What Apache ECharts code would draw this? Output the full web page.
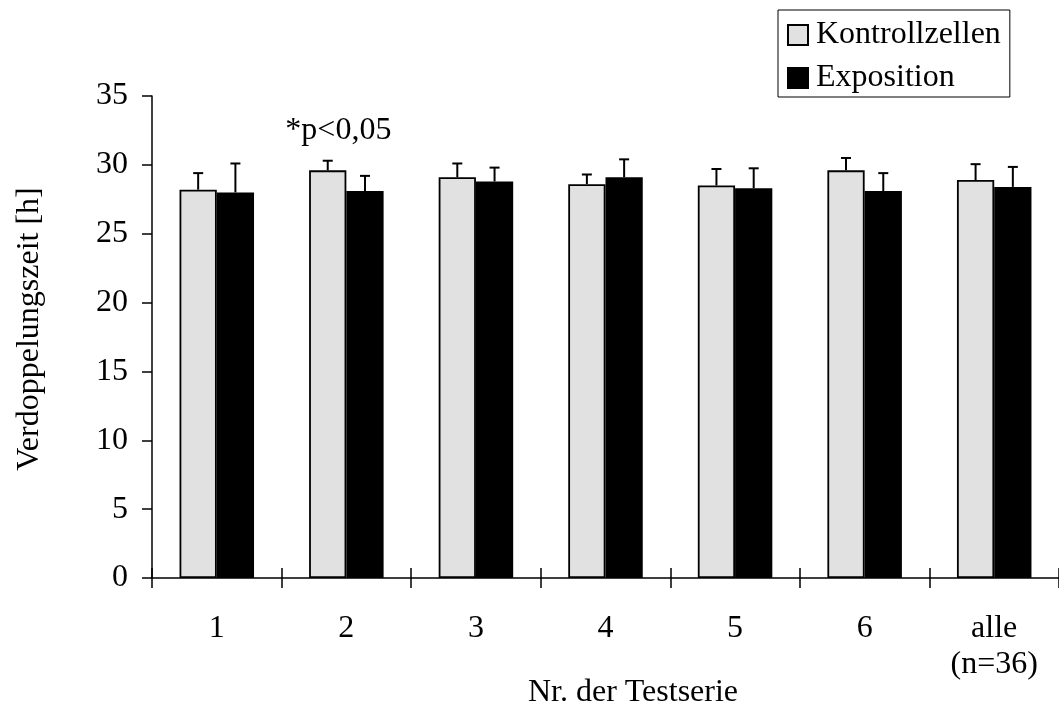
<!DOCTYPE html>
<html>
<head>
<meta charset="utf-8">
<script src="https://cdn.jsdelivr.net/npm/echarts@6/dist/echarts.min.js"></script>
<style>
  html, body { margin: 0; padding: 0; background: #fff; }
  #chart { width: 1059px; height: 708px; }
</style>
</head>
<body>
<div id="chart"></div>
<script>
// Verdoppelungszeit je Testserie: Mittelwerte und Standardabweichungen
var categories = ['1', '2', '3', '4', '5', '6', 'alle\n(n=36)'];
var kontrollValues = [28.2, 29.6, 29.1, 28.6, 28.5, 29.6, 28.9];
var kontrollErrors = [1.2, 0.7, 1.0, 0.7, 1.2, 0.9, 1.15];
var expositionValues = [28.0, 28.1, 28.8, 29.1, 28.3, 28.1, 28.4];
var expositionErrors = [2.1, 1.1, 1.0, 1.3, 1.45, 1.3, 1.45];
var yTicks = { min: 0, max: 35, interval: 5 };
var seriesNames = ['Kontrollzellen', 'Exposition'];
var significanceNote = { category: '2', value: 31.3, text: '*p<0,05' };

var FONT = '"Liberation Serif", "Times New Roman", serif';
var GAP_RATIO = 0.425;

var chart = echarts.init(document.getElementById('chart'), null, { renderer: 'canvas' });

function errorData(values, errors) {
  return values.map(function (v, i) { return [i, v, errors[i]]; });
}

// Whisker above each bar; side = -1 for left bar, +1 for right bar
function makeErrorRenderer(side) {
  return function (params, api) {
    var idx = api.value(0);
    var v = api.value(1);
    var e = api.value(2);
    var band = api.size([1, 0])[0];
    var barW = band * (1 - GAP_RATIO) / 2;
    var base = api.coord([idx, v]);
    var top = api.coord([idx, v + e]);
    var x = base[0] + side * barW / 2;
    var cap = 5;
    var style = { stroke: '#000', lineWidth: 2 };
    return {
      type: 'group',
      children: [
        { type: 'line', shape: { x1: x, y1: base[1], x2: x, y2: top[1] }, style: style },
        { type: 'line', shape: { x1: x - cap, y1: top[1], x2: x + cap, y2: top[1] }, style: style }
      ]
    };
  };
}

var option = {
  animation: false,
  backgroundColor: '#fff',
  grid: { left: 152, right: -7, top: 96, bottom: 130, containLabel: false },
  legend: {
    orient: 'vertical',
    left: 778,
    top: 10,
    data: seriesNames,
    itemWidth: 20,
    itemHeight: 20,
    itemGap: 11,
    padding: [9, 9, 3, 9],
    borderColor: '#000',
    borderWidth: 1,
    icon: 'rect',
    textStyle: { fontFamily: FONT, fontSize: 32, color: '#000', lineHeight: 32, padding: [0, 0, 0, 3] }
  },
  xAxis: [{
    type: 'category',
    data: categories,
    axisLine: { lineStyle: { color: '#000', width: 1.5 } },
    axisTick: { show: true, length: 10, alignWithLabel: false, lineStyle: { color: '#000', width: 1.5 } },
    axisLabel: { fontFamily: FONT, fontSize: 32, color: '#000', margin: 33, lineHeight: 36, interval: 0 }
  }, {
    type: 'category',
    data: categories,
    position: 'bottom',
    axisLine: { show: false },
    axisTick: { show: true, inside: true, length: 10, alignWithLabel: false, lineStyle: { color: '#000', width: 1.5 } },
    axisLabel: { show: false }
  }],
  yAxis: {
    type: 'value',
    min: yTicks.min,
    max: yTicks.max,
    interval: yTicks.interval,
    splitLine: { show: false },
    axisLine: { show: true, lineStyle: { color: '#000', width: 1.5 } },
    axisTick: { show: true, length: 10, lineStyle: { color: '#000', width: 1.5 } },
    axisLabel: { fontFamily: FONT, fontSize: 32, color: '#000', margin: 24 }
  },
  series: [
    {
      name: seriesNames[0],
      type: 'bar',
      data: kontrollValues,
      barGap: '0%',
      barCategoryGap: (GAP_RATIO * 100) + '%',
      itemStyle: { color: '#e1e1e1', borderColor: '#000', borderWidth: 1.8 }
    },
    {
      name: seriesNames[1],
      type: 'bar',
      data: expositionValues,
      barGap: '0%',
      barCategoryGap: (GAP_RATIO * 100) + '%',
      itemStyle: { color: '#000', borderColor: '#000', borderWidth: 1.8 }
    },
    {
      type: 'custom',
      name: 'kontrollErr',
      renderItem: makeErrorRenderer(-1),
      data: errorData(kontrollValues, kontrollErrors),
      encode: { x: 0, y: 1 },
      z: 5,
      silent: true
    },
    {
      type: 'custom',
      name: 'expositionErr',
      renderItem: makeErrorRenderer(1),
      data: errorData(expositionValues, expositionErrors),
      encode: { x: 0, y: 1 },
      z: 5,
      silent: true
    }
  ]
};

chart.setOption(option);

// Significance note and axis titles
var notePos = chart.convertToPixel({ xAxisIndex: 0, yAxisIndex: 0 },
  [significanceNote.category, significanceNote.value]);

chart.setOption({
  graphic: [
    {
      type: 'text',
      x: notePos[0] - 8,
      y: notePos[1],
      style: {
        text: significanceNote.text,
        font: '32px ' + FONT,
        fill: '#000',
        textAlign: 'center',
        textVerticalAlign: 'bottom'
      }
    },
    {
      type: 'text',
      x: 633,
      y: 693,
      style: {
        text: 'Nr. der Testserie',
        font: '32px ' + FONT,
        fill: '#000',
        textAlign: 'center',
        textVerticalAlign: 'middle'
      }
    },
    {
      type: 'text',
      x: 30,
      y: 329,
      rotation: Math.PI / 2,
      style: {
        text: 'Verdoppelungszeit [h]',
        font: '32px ' + FONT,
        fill: '#000',
        textAlign: 'center',
        textVerticalAlign: 'middle'
      }
    }
  ]
});
</script>
</body>
</html>
